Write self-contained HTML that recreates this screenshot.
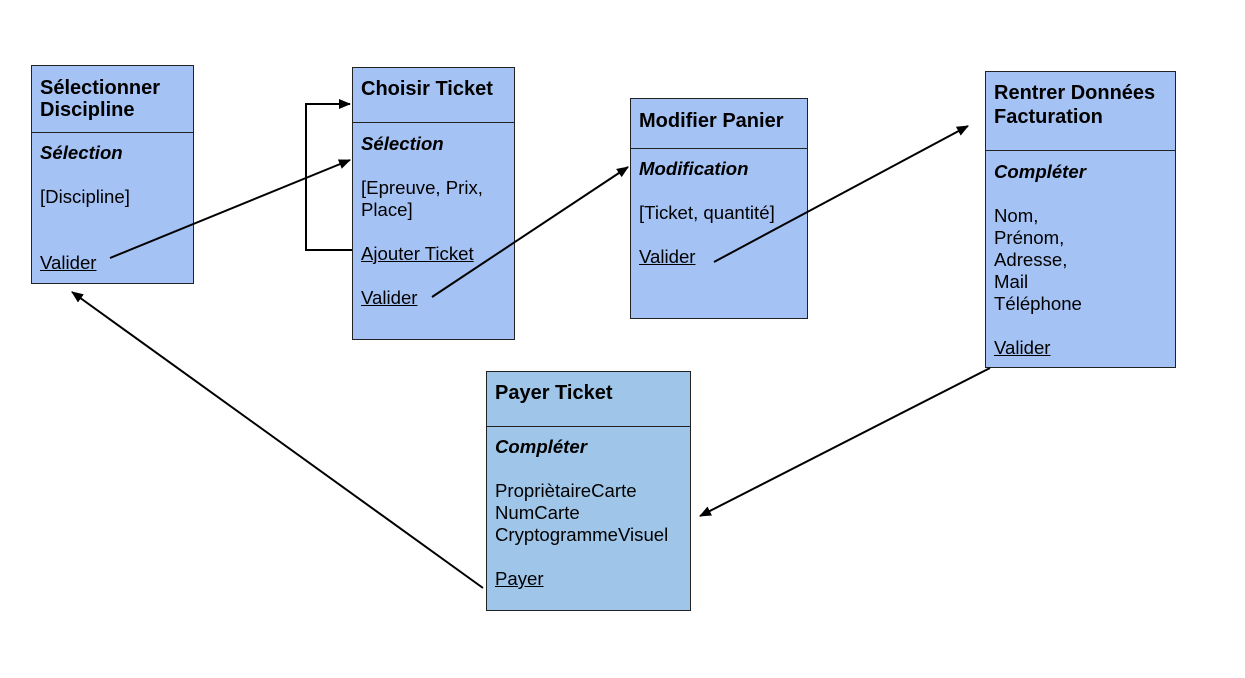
<!DOCTYPE html>
<html><head><meta charset="utf-8"><style>
body{margin:0;width:1245px;height:678px;background:#fff;position:relative;overflow:hidden;font-family:"Liberation Sans",Arial,sans-serif;font-size:18.6px;color:#000}
.b{position:absolute;background:#a4c2f4;border:1px solid #222;box-sizing:border-box}
.d{position:absolute;left:0;right:0;border-top:1px solid #222}
.t{position:absolute;white-space:nowrap;line-height:20px}
.h{font-weight:bold;font-size:20px}
.i{font-weight:bold;font-style:italic;font-size:18.6px}
.u{text-decoration:underline}
svg{position:absolute;left:0;top:0}
</style></head><body>
<div class="b" style="left:31px;top:65px;width:163px;height:219px"><div class="d" style="top:66px"></div></div>
<div class="b" style="left:352px;top:67px;width:163px;height:273px"><div class="d" style="top:54px"></div></div>
<div class="b" style="left:630px;top:98px;width:178px;height:221px"><div class="d" style="top:49px"></div></div>
<div class="b" style="left:985px;top:71px;width:191px;height:297px"><div class="d" style="top:78px"></div></div>
<div class="b" style="left:486px;top:371px;width:205px;height:240px;background:#9fc5e8"><div class="d" style="top:54px"></div></div>

<div class="t h" style="left:40px;top:78px">Sélectionner</div>
<div class="t h" style="left:40px;top:100px">Discipline</div>
<div class="t i" style="left:40px;top:143px">Sélection</div>
<div class="t" style="left:40px;top:187px">[Discipline]</div>
<div class="t u" style="left:40px;top:253px">Valider</div>

<div class="t h" style="left:361px;top:79px">Choisir Ticket</div>
<div class="t i" style="left:361px;top:134px">Sélection</div>
<div class="t" style="left:361px;top:178px">[Epreuve, Prix,</div>
<div class="t" style="left:361px;top:200px">Place]</div>
<div class="t u" style="left:361px;top:244px">Ajouter Ticket</div>
<div class="t u" style="left:361px;top:288px">Valider</div>

<div class="t h" style="left:639px;top:111px">Modifier Panier</div>
<div class="t i" style="left:639px;top:159px">Modification</div>
<div class="t" style="left:639px;top:203px">[Ticket, quantité]</div>
<div class="t u" style="left:639px;top:247px">Valider</div>

<div class="t h" style="left:994px;top:83px">Rentrer Données</div>
<div class="t h" style="left:994px;top:107px">Facturation</div>
<div class="t i" style="left:994px;top:162px">Compléter</div>
<div class="t" style="left:994px;top:206px">Nom,</div>
<div class="t" style="left:994px;top:228px">Prénom,</div>
<div class="t" style="left:994px;top:250px">Adresse,</div>
<div class="t" style="left:994px;top:272px">Mail</div>
<div class="t" style="left:994px;top:294px">Téléphone</div>
<div class="t u" style="left:994px;top:338px">Valider</div>

<div class="t h" style="left:495px;top:383px">Payer Ticket</div>
<div class="t i" style="left:495px;top:437px">Compléter</div>
<div class="t" style="left:495px;top:481px">PropriètaireCarte</div>
<div class="t" style="left:495px;top:503px">NumCarte</div>
<div class="t" style="left:495px;top:525px">CryptogrammeVisuel</div>
<div class="t u" style="left:495px;top:569px">Payer</div>

<svg width="1245" height="678">
<defs><marker id="a" markerWidth="12" markerHeight="10" refX="11" refY="5" orient="auto" markerUnits="userSpaceOnUse"><path d="M0,0 L12,5 L0,10 z" fill="#000"/></marker></defs>
<g stroke="#000" stroke-width="2" fill="none">
<line x1="110" y1="258" x2="350" y2="160" marker-end="url(#a)"/>
<polyline points="352,250 306,250 306,104 350,104" marker-end="url(#a)"/>
<line x1="432" y1="297" x2="628" y2="167" marker-end="url(#a)"/>
<line x1="714" y1="262" x2="968" y2="126" marker-end="url(#a)"/>
<line x1="990" y1="368" x2="700" y2="516" marker-end="url(#a)"/>
<line x1="483" y1="588" x2="72" y2="292" marker-end="url(#a)"/>
</g></svg>
</body></html>
